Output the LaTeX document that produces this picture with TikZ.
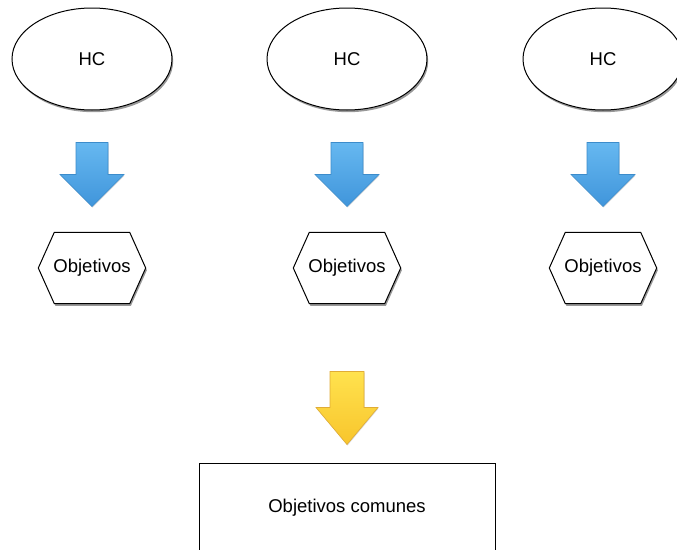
\documentclass[tikz,border=0pt]{standalone}
\usepackage{fontspec}
\setmainfont{Liberation Sans}
\usetikzlibrary{shapes.geometric,shadows,backgrounds,calc}
\definecolor{blueA}{HTML}{66B8F0}
\definecolor{blueB}{HTML}{4095DB}
\definecolor{blueE}{HTML}{3C8CCB}
\definecolor{yelA}{HTML}{FFE24E}
\definecolor{yelB}{HTML}{F8C52C}
\definecolor{yelE}{HTML}{E0AC36}
\tikzset{
  shad/.style={drop shadow={shadow xshift=1.2pt, shadow yshift=-2.2pt, opacity=0.5, fill=black!80}},
  txt/.style={font=\fontsize{18.5}{21}\selectfont},
  hcnode/.style={ellipse, draw=black, line width=1pt, fill=white, minimum width=160pt,
    minimum height=102pt, inner sep=0pt, txt, shad},
  objnode/.style={rectangle, minimum width=107pt, minimum height=71pt, inner sep=0pt, txt},
  hexline/.style={draw=black, line width=1pt, fill=white, shad},
  boxnode/.style={rectangle, draw=black, line width=1pt, fill=white, minimum width=296pt,
    minimum height=90pt, txt, shad},
  bluearrow/.style={draw=blueE, line width=0.6pt, top color=blueA, bottom color=blueB,
    drop shadow={shadow xshift=0.5pt, shadow yshift=-1pt, opacity=0.15, fill=black}},
  yelarrow/.style={draw=yelE, line width=0.6pt, top color=yelA, bottom color=yelB,
    drop shadow={shadow xshift=0.5pt, shadow yshift=-1pt, opacity=0.15, fill=black}}
}
\begin{document}
\begin{tikzpicture}[x=1pt, y=-1pt]
\useasboundingbox (0,0) rectangle (677,549);
\begin{pgfonlayer}{background}
  \fill[white] (0,0) rectangle (677,549);
\end{pgfonlayer}

% ellipses
\node[hcnode] (e1) at (92,59) {HC};
\node[hcnode] (e2) at (347,59) {HC};
\node[hcnode] (e3) at (603,59) {HC};

% hexagon texts
\node[objnode] (h1) at (92,268) {Objetivos};
\node[objnode] (h2) at (347,268) {Objetivos};
\node[objnode] (h3) at (603,268) {Objetivos};

% hexagon outlines
\begin{pgfonlayer}{background}
\foreach \h in {h1,h2,h3}{
  \path[hexline] (\h.west) -- ($(\h.north west)+(16,0)$) -- ($(\h.north east)+(-16,0)$)
    -- (\h.east) -- ($(\h.south east)+(-16,0)$) -- ($(\h.south west)+(16,0)$) -- cycle;
}
\end{pgfonlayer}

% bottom box
\node[boxnode] (r) at (347,508) {Objetivos comunes};

% blue block arrows
\foreach \e in {e1,e2,e3}{
  \path[bluearrow] ($(\e.south)+(-16,32)$) -- ++(32,0) -- ++(0,32) -- ++(16,0)
    -- ++(-32,32) -- ++(-32,-32) -- ++(16,0) -- cycle;
}

% yellow block arrow
\path[yelarrow] ($(r.north)+(-17,-91)$) -- ++(34,0) -- ++(0,36) -- ++(14,0)
  -- ++(-31,37) -- ++(-31,-37) -- ++(14,0) -- cycle;
\end{tikzpicture}
\end{document}
